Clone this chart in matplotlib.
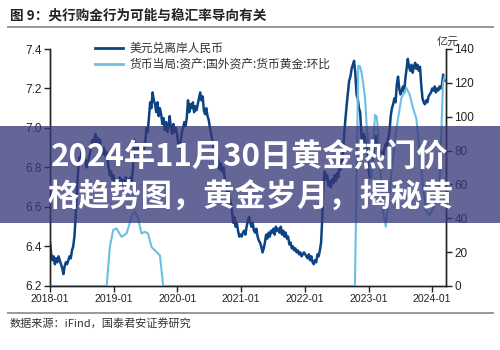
import matplotlib
matplotlib.use("Agg")
import matplotlib.pyplot as plt
import matplotlib.dates as mdates
from matplotlib.patches import Rectangle
from matplotlib.lines import Line2D
import pandas as pd

plt.rcParams['font.family'] = ['Noto Sans CJK SC', 'DejaVu Sans']

# 美元兑离岸人民币, weekly readings from 2018-01-01
cnh_2018 = [6.42, 6.36, 6.33, 6.35, 6.31, 6.34, 6.32, 6.35, 6.33, 6.31, 6.29, 6.26, 6.30,
            6.32, 6.31, 6.33, 6.35, 6.34, 6.38, 6.40, 6.45, 6.55, 6.68, 6.78, 6.85, 6.83,
            6.88, 6.86, 6.90, 6.84, 6.80, 6.83, 6.85, 6.88, 6.92, 6.94, 6.92, 6.97, 6.93,
            6.95, 6.92, 6.94, 6.89, 6.87, 6.90, 6.86, 6.88, 6.85, 6.80, 6.76, 6.78, 6.74]
cnh_2019 = [6.76, 6.72, 6.74, 6.71, 6.73, 6.75, 6.72, 6.74, 6.71, 6.73, 6.75, 6.72, 6.74,
            6.72, 6.75, 6.73, 6.80, 6.94, 6.92, 6.88, 6.91, 6.87, 6.90, 6.88, 6.92, 6.89,
            6.93, 7.00, 6.98, 7.05, 7.13, 7.10, 7.18, 7.14, 7.12, 7.08, 7.13, 7.06, 7.10,
            7.07, 7.02, 7.05, 6.99, 7.03, 6.98, 7.01, 7.06, 7.00, 6.97, 7.02, 6.98, 7.00]
cnh_2020 = [6.97, 6.92, 6.90, 6.93, 6.98, 7.00, 7.03, 7.01, 7.05, 7.14, 7.08, 7.12, 7.10,
            7.13, 7.08, 7.11, 7.09, 7.12, 7.15, 7.18, 7.14, 7.16, 7.09, 7.07, 7.10, 7.06,
            7.04, 7.00, 6.97, 6.93, 6.90, 6.92, 6.88, 6.85, 6.83, 6.79, 6.82, 6.78, 6.80,
            6.75, 6.72, 6.67, 6.69, 6.66, 6.62, 6.58, 6.52, 6.55, 6.50, 6.52, 6.48, 6.45]
cnh_2021 = [6.46, 6.45, 6.47, 6.48, 6.46, 6.50, 6.53, 6.55, 6.52, 6.50, 6.52, 6.48, 6.47,
            6.49, 6.45, 6.43, 6.42, 6.40, 6.37, 6.39, 6.42, 6.46, 6.44, 6.47, 6.45, 6.48,
            6.47, 6.49, 6.46, 6.50, 6.48, 6.49, 6.47, 6.50, 6.46, 6.48, 6.45, 6.47, 6.44,
            6.45, 6.41, 6.42, 6.39, 6.40, 6.38, 6.39, 6.37, 6.38, 6.36, 6.37, 6.35, 6.36]
cnh_2022 = [6.37, 6.36, 6.35, 6.34, 6.36, 6.33, 6.35, 6.32, 6.31, 6.33, 6.32, 6.36, 6.35,
            6.38, 6.42, 6.55, 6.72, 6.78, 6.74, 6.76, 6.71, 6.73, 6.70, 6.74, 6.72, 6.76,
            6.73, 6.77, 6.75, 6.81, 6.79, 6.83, 6.88, 6.98, 7.05, 7.12, 7.18, 7.24, 7.26,
            7.30, 7.32, 7.34, 7.28, 7.17, 7.15, 7.10, 7.08, 6.96, 6.93, 6.97, 6.95, 6.88]
cnh_2023 = [6.90, 6.78, 6.75, 6.77, 6.80, 6.88, 6.93, 6.96, 6.90, 6.87, 6.89, 6.85, 6.88,
            6.86, 6.90, 6.92, 6.91, 6.95, 6.98, 7.06, 7.10, 7.12, 7.15, 7.13, 7.22, 7.26,
            7.20, 7.17, 7.19, 7.21, 7.18, 7.25, 7.30, 7.35, 7.31, 7.29, 7.32, 7.28, 7.31,
            7.33, 7.30, 7.32, 7.29, 7.31, 7.22, 7.15, 7.13, 7.12, 7.14, 7.13, 7.16, 7.17]
cnh_2024 = [7.18, 7.20, 7.19, 7.21, 7.18, 7.20, 7.19, 7.21, 7.20, 7.22, 7.27, 7.24]
usdcnh = cnh_2018 + cnh_2019 + cnh_2020 + cnh_2021 + cnh_2022 + cnh_2023 + cnh_2024
usdcnh_dates = pd.date_range('2018-01-01', periods=len(usdcnh), freq='7D')

# 货币当局:资产:国外资产:货币黄金:环比 (亿元)
gold_dates = ['2018-01-01', '2018-11-22', '2018-12-10', '2018-12-29', '2019-01-17',
              '2019-02-15', '2019-03-16', '2019-04-14', '2019-05-02', '2019-05-21',
              '2019-06-09', '2019-06-28', '2019-07-17', '2019-08-06', '2019-09-04',
              '2019-09-23', '2019-10-12', '2022-10-15', '2022-11-03', '2022-11-12',
              '2022-11-22', '2022-12-02', '2022-12-12', '2022-12-21', '2022-12-31',
              '2023-01-09', '2023-01-18', '2023-01-28', '2023-02-07', '2023-02-17',
              '2023-02-25', '2023-03-07', '2023-03-26', '2023-04-10', '2023-04-23',
              '2023-05-12', '2023-06-10', '2023-07-08', '2023-08-06', '2023-08-25',
              '2023-09-13', '2023-10-02', '2023-10-22', '2023-11-10', '2023-11-29',
              '2023-12-18', '2024-01-06', '2024-01-25', '2024-02-13', '2024-02-23',
              '2024-03-03', '2024-03-13']
gold_change = [0, 0, 23, 33, 34, 29, 31, 41, 44, 40, 31, 32, 31, 23, 20, 18, 0,
               0, 130, 130, 126, 119, 111, 95, 83, 71, 64, 83, 101, 100, 91, 73, 44,
               35, 48, 67, 93, 111, 117, 113, 105, 99, 77, 58, 44, 42, 46, 50, 64, 93,
               120, 124]

left_ticks = [6.2, 6.4, 6.6, 6.8, 7.0, 7.2, 7.4]
right_ticks = [0, 20, 40, 60, 80, 100, 120, 140]
year_ticks = ['2018-01-01', '2019-01-01', '2020-01-01', '2021-01-01',
              '2022-01-01', '2023-01-01', '2024-01-01']
labels = ['美元兑离岸人民币', '货币当局:资产:国外资产:货币黄金:环比']

dark = '#0c4382'
light = '#6cc0e2'
x_font = {'family': 'Liberation Sans', 'size': 7.6}
y_font = {'family': 'Liberation Sans', 'size': 8.5}

fig = plt.figure(figsize=(5, 3.5), dpi=100)
ax = fig.add_axes([0.1, 0.183, 0.792, 0.677])
ax2 = ax.twinx()

ax.plot(usdcnh_dates, usdcnh, color=dark, lw=1.8)
ax2.plot(pd.to_datetime(gold_dates), gold_change, color=light, lw=1.5)

ax.set_xlim(pd.Timestamp('2018-01-01'), pd.Timestamp('2024-03-20'))
ax.set_ylim(6.2, 7.4)
ax2.set_ylim(0, 140)
ax.set_yticks(left_ticks)
ax.set_yticklabels(['%.1f' % v for v in left_ticks], fontdict=y_font)
ax2.set_yticks(right_ticks)
ax2.set_yticklabels([str(v) for v in right_ticks], fontdict=y_font)
ax.set_xticks(pd.to_datetime(year_ticks))
ax.xaxis.set_major_formatter(mdates.DateFormatter('%Y-%m'))
for lab in ax.get_xticklabels():
    lab.set_fontproperties(x_font)

for a in (ax, ax2):
    a.spines['top'].set_visible(False)
    for s in ('left', 'right', 'bottom'):
        a.spines[s].set_color('#222222')
        a.spines[s].set_linewidth(1.0)
    a.tick_params(direction='out', length=4, width=1, colors='#222222', pad=2)

fig.text(0.874, 0.866, '亿元', fontsize=8, color='#333333', ha='left', va='bottom')

handles = [Line2D([], [], color=dark, lw=2), Line2D([], [], color=light, lw=2)]
fig.legend(handles, labels, loc='upper left', bbox_to_anchor=(0.178, 0.897),
           frameon=False, fontsize=8.5, handlelength=2.4, handletextpad=0.5,
           labelspacing=0.25, borderpad=0, labelcolor='#333333')

# title, rules and source
fig.text(0.02, 0.957, '图 9：央行购金行为可能与稳汇率导向有关', fontsize=9.8,
         fontweight='bold', color='#222222', ha='left', va='center')
fig.add_artist(Line2D([0.016, 0.986], [0.922, 0.922], color='#999999', lw=1.4))
fig.add_artist(Line2D([0.016, 0.986], [0.106, 0.106], color='#999999', lw=1.4))
fig.text(0.02, 0.077, '数据来源：iFind，国泰君安证券研究', fontsize=8,
         color='#333333', ha='left', va='center')

# overlay banner
fig.add_artist(Rectangle((0, 0.363), 1, 0.277, transform=fig.transFigure,
                         facecolor=(0.21, 0.22, 0.47), alpha=0.77, edgecolor='none',
                         zorder=10))
fig.text(0.5, 0.549, '2024年11月30日黄金热门价', fontsize=22.5, fontweight='bold',
         color='white', ha='center', va='center', zorder=11)
fig.text(0.5, 0.437, '格趋势图，黄金岁月，揭秘黄', fontsize=22.5, fontweight='bold',
         color='white', ha='center', va='center', zorder=11)

fig.savefig('out.png', dpi=100)
